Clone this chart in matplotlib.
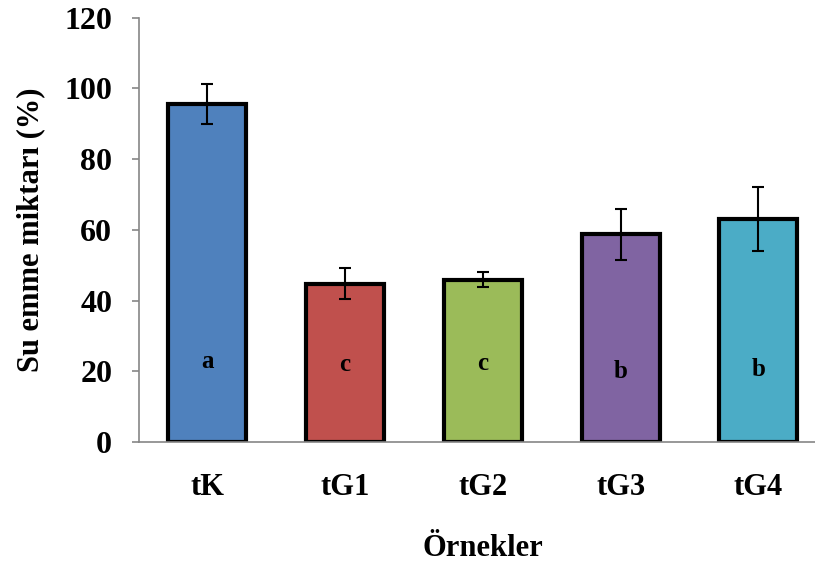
import matplotlib.pyplot as plt

# water absorption per sample group, mean and std
samples = ["tK", "tG1", "tG2", "tG3", "tG4"]
means = [95.6, 44.8, 45.9, 58.7, 63.0]
errors = [5.7, 4.3, 2.2, 7.3, 9.0]
groups = ["a", "c", "c", "b", "b"]
group_y = [22.7, 21.8, 22.3, 19.9, 20.6]
colors = ["#4F81BD", "#C0504D", "#9BBB59", "#8064A2", "#4BACC6"]

plt.rcParams["font.family"] = ["Liberation Serif", "DejaVu Serif"]
plt.rcParams["font.weight"] = "bold"

fig = plt.figure(figsize=(8.15, 5.66), dpi=100)
ax = fig.add_axes([0.170, 0.219, 0.845, 0.750])

x = range(len(samples))
ax.bar(x, means, width=0.566, color=colors, edgecolor="black", linewidth=3,
       zorder=2)
ax.errorbar(x, means, yerr=errors, fmt="none", ecolor="black", elinewidth=1.5,
            capsize=4.5, capthick=1.5, zorder=3)

# significance letters inside the bars
for i, (g, gy) in enumerate(zip(groups, group_y)):
    ax.text(i, gy, g, ha="center", va="center", fontsize=18, fontweight="bold",
            zorder=4)

ax.set_xlim(-0.5, 4.5)
ax.set_ylim(0, 120)
ax.set_yticks(range(0, 121, 20))
ax.set_xticks(list(x))
ax.set_xticklabels(samples)

for side in ["top", "right"]:
    ax.spines[side].set_visible(False)
for side in ["left", "bottom"]:
    ax.spines[side].set_color("#868686")
    ax.spines[side].set_linewidth(1.2)
    ax.spines[side].set_zorder(5)

ax.tick_params(axis="y", direction="out", length=5, width=1.2, color="#868686",
               labelsize=23, pad=14)
ax.tick_params(axis="x", length=0, labelsize=22, pad=22)

ax.set_ylabel("Su emme miktarı (%)", fontsize=22, fontweight="bold", labelpad=14)
ax.set_xlabel("Örnekler", fontsize=22, fontweight="bold", labelpad=23)

fig.savefig("out.png", dpi=100)
